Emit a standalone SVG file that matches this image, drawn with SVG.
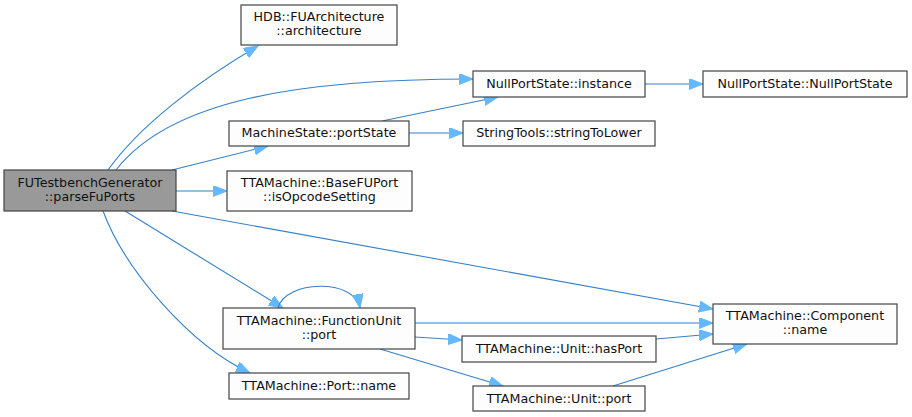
<svg xmlns="http://www.w3.org/2000/svg" width="912" height="417" viewBox="0 0 912 417">
<style>
.n rect{fill:#fdfdfd;stroke:#444;stroke-width:1.2}
.r rect{fill:#999999;stroke:#444;stroke-width:1.2}
text{font-family:"DejaVu Sans",sans-serif;font-size:12.7px;fill:#111;text-anchor:middle}
.e path{fill:none;stroke:#3580c8;stroke-width:1.1;marker-end:url(#a)}
</style>
<defs>
<marker id="a" markerUnits="userSpaceOnUse" markerWidth="15" markerHeight="12" refX="14" refY="5.5" orient="auto" viewBox="0 0 15 12">
<path d="M0,0 L14,5.5 L0,11 z" fill="#63b8ff" stroke="#63b8ff"/>
</marker>
</defs>
<rect width="912" height="417" fill="#fff"/>
<g class="e" id="edges">
<path d="M108,170 C140,125 200,80 258,46"/>
<path d="M116,170 C170,100 300,79 473,79"/>
<path d="M172,170 L268,146"/>
<path d="M176,191 L227,191"/>
<path d="M172,211 L713,309"/>
<path d="M125,211 L283,308"/>
<path d="M103,211 C125,270 190,345 250,373"/>
<path d="M382,121 L498,97"/>
<path d="M409,133 L463,133"/>
<path d="M645,84 L703,84"/>
<path d="M278,308 C285,280 355,278 360,308"/>
<path d="M415,323 L713,323"/>
<path d="M415,337 L462,340"/>
<path d="M380,349 L503,386"/>
<path d="M656,339 L713,334"/>
<path d="M613,386 L747,344"/>
</g>
<g class="r" id="root"><rect x="4" y="170" width="172" height="41"/><text x="90" y="187">FUTestbenchGenerator</text><text x="90" y="201">::parseFuPorts</text></g>
<g class="n" id="hdb"><rect x="241" y="5" width="156" height="40"/><text x="319" y="21">HDB::FUArchitecture</text><text x="319" y="35">::architecture</text></g>
<g class="n" id="portState"><rect x="229" y="121" width="180" height="25"/><text x="319" y="137">MachineState::portState</text></g>
<g class="n" id="baseFUPort"><rect x="227" y="171" width="185" height="40"/><text x="319.5" y="187">TTAMachine::BaseFUPort</text><text x="319.5" y="201">::isOpcodeSetting</text></g>
<g class="n" id="instance"><rect x="473" y="71" width="172" height="26"/><text x="559" y="88">NullPortState::instance</text></g>
<g class="n" id="nullPortState"><rect x="703" y="71" width="204" height="26"/><text x="805" y="88">NullPortState::NullPortState</text></g>
<g class="n" id="stringToLower"><rect x="463" y="121" width="192" height="25"/><text x="559" y="137">StringTools::stringToLower</text></g>
<g class="n" id="fuPort"><rect x="223" y="308" width="192" height="41"/><text x="319" y="325">TTAMachine::FunctionUnit</text><text x="319" y="339">::port</text></g>
<g class="n" id="portName"><rect x="229" y="373" width="180" height="26"/><text x="319" y="390">TTAMachine::Port::name</text></g>
<g class="n" id="componentName"><rect x="713" y="304" width="184" height="40"/><text x="805" y="320">TTAMachine::Component</text><text x="805" y="334">::name</text></g>
<g class="n" id="hasPort"><rect x="462" y="336" width="194" height="26"/><text x="559" y="353">TTAMachine::Unit::hasPort</text></g>
<g class="n" id="unitPort"><rect x="473" y="386" width="172" height="25"/><text x="559" y="403">TTAMachine::Unit::port</text></g>
</svg>
